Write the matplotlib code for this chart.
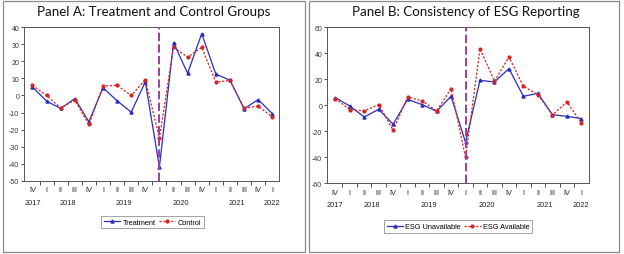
import matplotlib
matplotlib.use("Agg")
import matplotlib.pyplot as plt
from matplotlib.patches import Rectangle
from matplotlib.lines import Line2D

quarters = ['IV', 'I', 'II', 'III', 'IV', 'I', 'II', 'III', 'IV',
            'I', 'II', 'III', 'IV', 'I', 'II', 'III', 'IV', 'I']
years = ['2017', '2018', '2019', '2020', '2021', '2022']
year_pos = [0, 2.5, 6.5, 10.5, 14.5, 17]
event_idx = 9  # 2020 Q1

treatment = [5, -3.3, -7.6, -1.8, -15.5, 4.5, -3.1, -9.8, 8, -42,
             31, 13, 36.3, 12.5, 9, -7.8, -2.4, -10.6]
control = [6, 0, -7.3, -2.7, -17, 5.5, 6, 0, 9.2, -25,
           28.4, 22.5, 28.2, 7.8, 8.8, -7.3, -6.3, -12.5]

esg_unavailable = [5.9, -0.5, -9, -3.1, -14.6, 4.6, 0.5, -4.6, 6.9, -28.5,
                   19.2, 18, 28.2, 6.9, 9.2, -7.2, -8.5, -10.2]
esg_available = [5.2, -3.3, -4.3, 0.5, -19.2, 6.4, 3.4, -4.3, 12.8, -40,
                 43.6, 18.5, 37.2, 14.6, 8.2, -7.5, 2.6, -13.3]

plt.rcParams['lines.scale_dashes'] = False
W, H = 624, 255
fig = plt.figure(figsize=(W / 100, H / 100), dpi=100)

BLUE = '#2c2cbd'
RED = '#d42424'
PURPLE = '#9b3fa0'
TXT = '#222222'
FONT = 'Liberation Sans'


def px_axes(l, t, r, b):
    return fig.add_axes([l / W, 1 - b / H, (r - l) / W, (b - t) / H])


# panel boxes
for (l, r) in [(2.5, 304.5), (308.5, 619)]:
    fig.add_artist(Rectangle((l / W, 1 - 252.7 / H), (r - l) / W, (252.7 - 1.5) / H,
                             transform=fig.transFigure, fill=False,
                             edgecolor='#8a8a8a', linewidth=0.9))


def panel(ax, s1, s2, lab1, lab2, ylim, yticks, xlim, title, tx, leg_center):
    x = list(range(len(quarters)))
    ax.plot(x, s1, color=BLUE, lw=0.9, marker='^', ms=2.2, mec=BLUE, mfc=BLUE, zorder=3)
    ax.plot(x, s2, color=RED, lw=0.9, ls=(0, (1.6, 1.2)), marker='o', ms=2.0,
            mec=RED, mfc=RED, zorder=3)
    ax.axvline(event_idx, color=PURPLE, lw=1.4, dashes=(6, 2.4), zorder=4)
    ax.set_xlim(*xlim)
    ax.set_ylim(*ylim)
    ax.set_yticks(yticks)
    ax.set_yticklabels([str(v) for v in yticks], fontsize=5, family=FONT, color=TXT)
    ax.tick_params(axis='y', length=2.4, width=0.6, pad=1, colors='#333333')
    ax.set_xticks(x)
    ax.set_xticklabels(quarters, fontsize=5.3, family=FONT, color=TXT)
    ax.tick_params(axis='x', which='major', length=0, pad=4)
    ax.set_xticks([i + 0.5 for i in range(len(quarters) - 1)], minor=True)
    ax.tick_params(axis='x', which='minor', length=2.6, width=0.6, color='#333333')
    for sp in ax.spines.values():
        sp.set_color('#555555')
        sp.set_linewidth(0.7)
    for yr, p in zip(years, year_pos):
        ax.annotate(yr, xy=(p, 0), xycoords=ax.get_xaxis_transform(),
                    xytext=(0, -15.6), textcoords='offset points',
                    ha='center', va='center', fontsize=5.3, family=FONT, color=TXT)
    fig.text(tx / W, 1 - 12.5 / H, title, ha='center', va='center',
             fontsize=9.6, family='Lato', color='#111111')
    handles = [Line2D([], [], color=BLUE, lw=0.9, marker='^', ms=2.2),
               Line2D([], [], color=RED, lw=0.9, ls=(0, (1.6, 1.2)), marker='o', ms=2.0)]
    leg = fig.legend(handles, [lab1, lab2], loc='center',
                     bbox_to_anchor=(leg_center[0] / W, 1 - leg_center[1] / H),
                     ncol=2, fontsize=5.3, prop={'family': FONT, 'size': 5.3},
                     frameon=True, fancybox=False, edgecolor='#777777',
                     handlelength=2.2, handletextpad=0.3, columnspacing=0.5,
                     borderpad=0.35, borderaxespad=0)
    leg.get_frame().set_linewidth(0.6)


axA = px_axes(24, 28.3, 279.3, 181.7)
panel(axA, treatment, control, 'Treatment', 'Control', (-50, 40),
      list(range(-50, 41, 10)), (-0.6, 17.5),
      'Panel A: Treatment and Control Groups', 154, (152.5, 223))

axB = px_axes(327, 28.3, 588.7, 184.3)
panel(axB, esg_unavailable, esg_available, 'ESG Unavailable', 'ESG Available', (-60, 60),
      list(range(-60, 61, 20)), (-0.57, 17.51),
      'Panel B: Consistency of ESG Reporting', 466, (458, 227.5))

fig.savefig('out.png', dpi=100)
